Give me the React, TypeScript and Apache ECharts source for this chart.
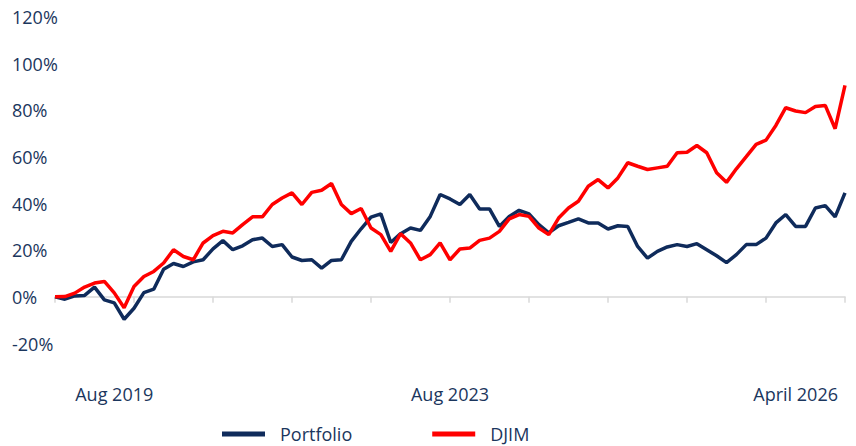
import React, { useEffect, useRef } from "react";
import * as echarts from "echarts";

// Observation index (81 points)
const periods: number[] = Array.from({ length: 81 }, (_, i) => i);

const portfolio: number[] = [
  0, -1.0, 0.4, 0.6, 4.2, -1.3, -2.6, -9.6, -4.9, 1.8,
  3.3, 11.8, 14.3, 13.0, 15.0, 15.9, 20.6, 24.1, 20.2, 21.9,
  24.5, 25.2, 21.6, 22.4, 17.1, 15.6, 15.9, 12.3, 15.6, 15.9,
  23.8, 29.2, 34.2, 35.6, 23.3, 27.1, 29.5, 28.5, 34.5, 43.9,
  42.0, 39.6, 43.9, 37.7, 37.7, 30.2, 34.5, 37.1, 35.6, 31.0,
  27.4, 30.5, 31.9, 33.4, 31.7, 31.7, 29.1, 30.5, 30.2, 21.6,
  16.6, 19.5, 21.4, 22.4, 21.6, 22.8, 20.2, 17.6, 14.7, 18.1,
  22.4, 22.4, 25.2, 31.7, 35.3, 30.2, 30.2, 38.1, 39.1, 34.3,
  44.6,
];

const djim: number[] = [
  0, 0.1, 1.6, 4.2, 5.9, 6.6, 1.7, -4.7, 4.4, 8.7,
  10.9, 14.5, 20.2, 17.3, 15.9, 23.1, 26.3, 28.1, 27.4, 31.0,
  34.3, 34.3, 39.6, 42.4, 44.6, 39.6, 44.8, 45.7, 48.6, 39.6,
  35.7, 37.9, 29.5, 26.7, 19.5, 27.1, 23.1, 15.9, 18.1, 23.1,
  15.9, 20.5, 20.9, 24.2, 25.2, 28.1, 33.4, 35.3, 34.5, 29.5,
  26.7, 33.8, 38.1, 41.0, 47.4, 50.3, 46.7, 51.0, 57.5, 56.0,
  54.6, 55.3, 56.0, 61.8, 62.0, 64.9, 61.8, 53.2, 49.1, 54.9,
  60.1, 65.4, 67.2, 73.5, 81.1, 79.7, 79.0, 81.6, 82.1, 72.1,
  90.7,
];

const tickLabels: string[] = ["Aug 2019", "Aug 2023", "April 2026"];
const tickLabelIndex: number[] = [6, 40, 75];

const NAVY = "#0f2b5b";
const RED = "#ff0000";
const TEXT = "#1b365d";
const FONT = "Open Sans";

export default function App() {
  const ref = useRef<HTMLDivElement>(null);

  useEffect(() => {
    if (!ref.current) return;
    const chart = echarts.init(ref.current, undefined, { renderer: "svg" });
    chart.setOption({
      animation: false,
      backgroundColor: "#ffffff",
      textStyle: { fontFamily: FONT },
      grid: { left: 55, right: 11, top: 17, bottom: 102.5, containLabel: false },
      legend: {
        data: ["Portfolio", "DJIM"],
        left: 217,
        top: 419,
        icon: "rect",
        itemWidth: 43,
        itemHeight: 5,
        itemGap: 80,
        textStyle: {
          fontFamily: FONT,
          fontSize: 18,
          color: TEXT,
          lineHeight: 20,
          padding: [0, 0, 0, 10],
        },
      },
      xAxis: [
        {
          type: "category",
          data: periods,
          boundaryGap: false,
          axisLine: { show: true, onZero: true, lineStyle: { color: "#d9d9d9", width: 1.5 } },
          axisTick: { show: true, interval: 7, length: 6, lineStyle: { color: "#d9d9d9", width: 1.5 } },
          axisLabel: { show: false },
          splitLine: { show: false },
        },
        {
          type: "category",
          data: periods,
          boundaryGap: false,
          position: "bottom",
          axisLine: { show: false, onZero: false },
          axisTick: { show: false },
          splitLine: { show: false },
          axisLabel: {
            show: true,
            margin: 41,
            interval: (index: number) => tickLabelIndex.includes(index),
            formatter: (_v: string, index: number) => {
              const k = tickLabelIndex.indexOf(index);
              return k >= 0 ? tickLabels[k] : "";
            },
            fontFamily: FONT,
            fontSize: 18,
            color: TEXT,
          },
        },
      ],
      yAxis: {
        type: "value",
        min: -20,
        max: 120,
        interval: 20,
        axisLine: { show: false },
        axisTick: { show: false },
        splitLine: { show: false },
        axisLabel: {
          formatter: "{value}%",
          align: "left",
          margin: 43,
          fontFamily: FONT,
          fontSize: 18,
          color: TEXT,
        },
      },
      series: [
        {
          name: "Portfolio",
          type: "line",
          xAxisIndex: 0,
          data: portfolio,
          showSymbol: false,
          symbol: "none",
          lineStyle: { color: NAVY, width: 3.5 },
          itemStyle: { color: NAVY },
          z: 2,
        },
        {
          name: "DJIM",
          type: "line",
          xAxisIndex: 0,
          data: djim,
          showSymbol: false,
          symbol: "none",
          lineStyle: { color: RED, width: 3.5 },
          itemStyle: { color: RED },
          z: 3,
        },
      ],
    });
    return () => chart.dispose();
  }, []);

  return (
    <div
      ref={ref}
      style={{ position: "absolute", left: 0, top: 0, width: 856, height: 446 }}
    />
  );
}
